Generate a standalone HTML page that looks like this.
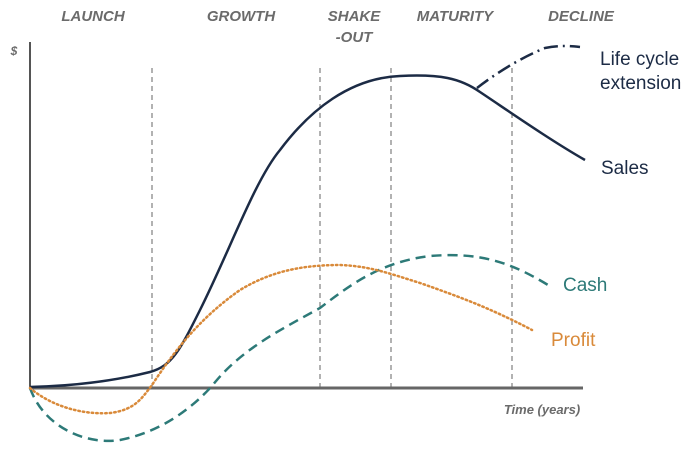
<!DOCTYPE html>
<html><head><meta charset="utf-8"><style>
html,body{margin:0;padding:0;background:#fff;}
svg{display:block;}
</style></head><body>
<svg width="700" height="460" viewBox="0 0 700 460" xmlns="http://www.w3.org/2000/svg">
<g font-family="Liberation Sans, sans-serif" font-style="italic" font-weight="bold" fill="#6b6b6b" font-size="15" text-anchor="middle">
<text x="93" y="21">LAUNCH</text>
<text x="241" y="21">GROWTH</text>
<text x="354" y="21">SHAKE</text>
<text x="354" y="42">-OUT</text>
<text x="455" y="21">MATURITY</text>
<text x="581" y="21">DECLINE</text>
<text x="14" y="55" font-size="12">$</text>
<text x="542" y="414" font-size="13" font-weight="bold">Time (years)</text>
</g>
<g stroke="#666" stroke-width="1" stroke-dasharray="5,4">
<line x1="152" y1="68" x2="152" y2="388"/>
<line x1="320" y1="68" x2="320" y2="388"/>
<line x1="391" y1="68" x2="391" y2="388"/>
<line x1="512" y1="68" x2="512" y2="388"/>
</g>
<line x1="30" y1="42" x2="30" y2="389" stroke="#555" stroke-width="2"/>
<line x1="29" y1="388" x2="583" y2="388" stroke="#666" stroke-width="3"/>
<path d="M30,387 C70,386 110,382 150,372 C172,366 180,350 200,310 C230,250 255,180 280,150 C310,110 350,78 400,76 C440,74 460,78 480,92 C510,112 550,140 585,160" fill="none" stroke="#1c2b45" stroke-width="2.5"/>
<path d="M477,88 C495,74 520,58 545,48 C560,45 570,46 580,47" fill="none" stroke="#1c2b45" stroke-width="2.5" stroke-dasharray="14,5,2,5"/>
<path d="M30,388 C45,430 90,445 120,440 C160,432 190,410 212,386 C240,350 280,330 320,308 C350,285 380,262 430,256 C480,252 510,262 548,285" fill="none" stroke="#2d7a78" stroke-width="2.5" stroke-dasharray="10,6"/>
<path d="M30,388 C50,405 80,415 110,413 C135,410 142,398 152,385 C175,350 200,318 240,290 C270,272 300,265 340,265 C370,266 391,274 420,283 C460,297 490,308 532,330" fill="none" stroke="#d98a3a" stroke-width="2.5" stroke-dasharray="1.5,3" stroke-linecap="round"/>
<g font-family="Liberation Sans, sans-serif" font-size="19">
<text x="600" y="65" fill="#1c2b45">Life cycle</text>
<text x="600" y="89" fill="#1c2b45">extension</text>
<text x="601" y="174" fill="#1c2b45">Sales</text>
<text x="563" y="291" fill="#2d7a78">Cash</text>
<text x="551" y="346" fill="#d98a3a">Profit</text>
</g>
</svg>
</body></html>
